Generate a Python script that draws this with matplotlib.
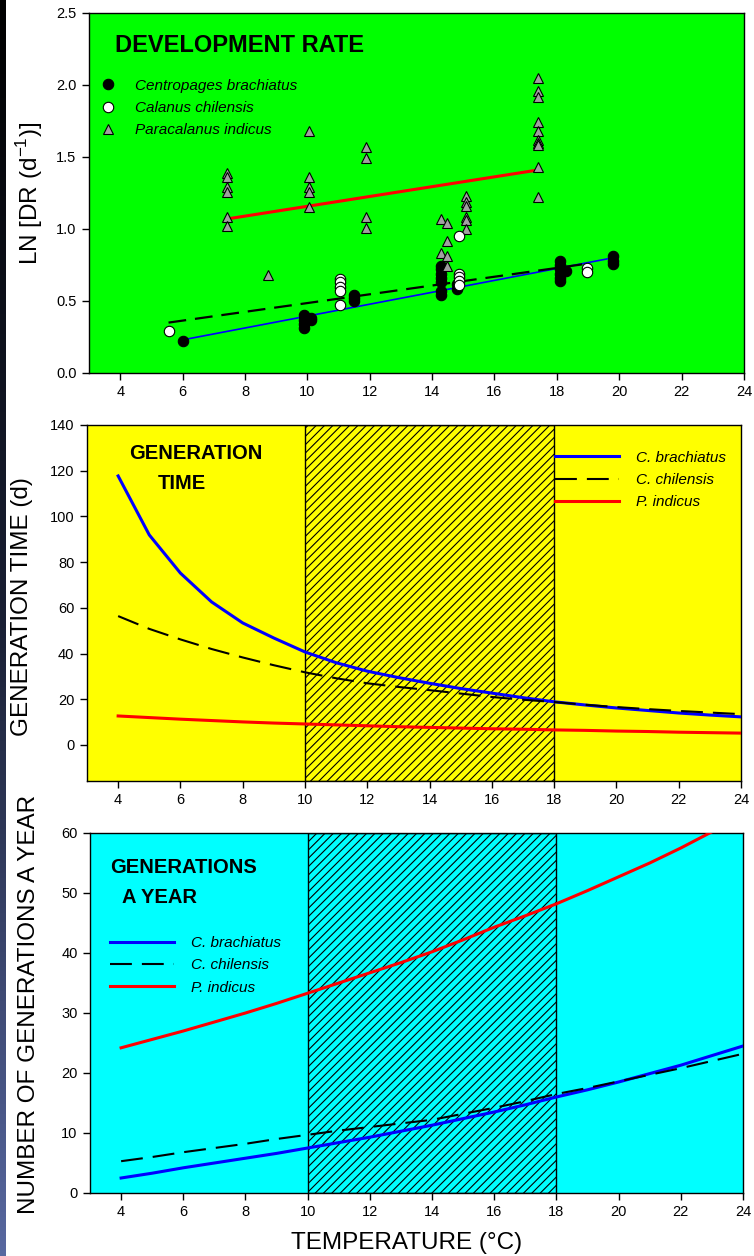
import numpy as np
import matplotlib
matplotlib.use('Agg')
import matplotlib.pyplot as plt
from matplotlib.colors import LinearSegmentedColormap

plt.rcParams['font.family'] = ['Liberation Sans', 'DejaVu Sans']
plt.rcParams['mathtext.fontset'] = 'custom'
plt.rcParams['mathtext.rm'] = 'Liberation Sans'
plt.rcParams['hatch.linewidth'] = 0.8

# --- panel 1: development rate (ln DR vs temperature) ---
cb_temp = [6.02, 9.88, 9.88, 9.88, 9.88, 10.13, 10.13, 11.5, 11.5, 11.5,
           14.3, 14.3, 14.3, 14.3, 14.3, 14.3, 14.3, 14.8, 14.8,
           18.09, 18.09, 18.09, 18.09, 18.09, 18.09, 18.3, 19.8, 19.8, 19.8]
cb_lndr = [0.22, 0.40, 0.37, 0.34, 0.31, 0.38, 0.37, 0.54, 0.52, 0.50,
           0.74, 0.72, 0.69, 0.66, 0.63, 0.57, 0.54, 0.62, 0.58,
           0.78, 0.75, 0.72, 0.69, 0.66, 0.64, 0.71, 0.81, 0.78, 0.76]

cc_temp = [5.57, 11.06, 11.06, 11.06, 11.06, 11.06,
           14.85, 14.85, 14.85, 14.85, 14.85, 18.96, 18.96]
cc_lndr = [0.29, 0.65, 0.63, 0.60, 0.57, 0.47,
           0.95, 0.69, 0.67, 0.64, 0.61, 0.73, 0.70]

pi_temp = [7.43, 7.43, 7.43, 7.43, 7.43, 7.43, 8.75,
           10.04, 10.04, 10.04, 10.04, 10.04,
           11.87, 11.87, 11.87, 11.87,
           14.3, 14.3, 14.47, 14.47, 14.47, 14.47,
           15.1, 15.1, 15.1, 15.1, 15.1, 15.1,
           17.39, 17.39, 17.39, 17.39, 17.39, 17.39, 17.39, 17.39, 17.39, 17.39]
pi_lndr = [1.39, 1.36, 1.29, 1.26, 1.08, 1.02, 0.68,
           1.68, 1.36, 1.29, 1.26, 1.15,
           1.57, 1.49, 1.08, 1.01,
           1.07, 0.83, 1.04, 0.92, 0.81, 0.74,
           1.23, 1.19, 1.16, 1.08, 1.06, 1.00,
           2.05, 1.96, 1.92, 1.74, 1.68, 1.62, 1.60, 1.58, 1.43, 1.22]

# fitted regression lines (end points)
cb_fit_t = [6.0, 19.8]
cb_fit_y = [0.23, 0.80]
cc_fit_t = [5.55, 19.0]
cc_fit_y = [0.35, 0.76]
pi_fit_t = [7.43, 17.4]
pi_fit_y = [1.07, 1.41]

# --- panels 2 and 3: curves at 1 degree steps ---
temp = np.arange(4, 25)
gt_cb = [117.7, 91.9, 75.2, 62.6, 53.4, 46.8, 40.7, 36.0, 32.3, 29.5, 27.0,
         24.7, 22.7, 20.7, 18.9, 17.5, 16.2, 15.1, 14.0, 13.1, 12.3]
gt_cc = [56.4, 50.8, 46.2, 42.0, 38.3, 34.9, 31.8, 29.2, 27.0, 25.4, 24.0,
         22.5, 21.0, 19.8, 18.8, 17.6, 16.6, 15.7, 14.9, 14.2, 13.5]
gt_pi = [12.7, 12.0, 11.3, 10.7, 10.1, 9.6, 9.2, 8.8, 8.4, 8.0, 7.7,
         7.4, 7.1, 6.9, 6.6, 6.4, 6.1, 5.9, 5.6, 5.4, 5.2]

gy_cb = [2.5, 3.3, 4.2, 5.0, 5.8, 6.6, 7.5, 8.4, 9.3, 10.3, 11.3,
         12.4, 13.5, 14.7, 16.0, 17.2, 18.5, 19.9, 21.3, 22.9, 24.5]
gy_cc = [5.3, 6.0, 6.8, 7.5, 8.2, 9.0, 9.7, 10.4, 11.0, 11.6, 12.2,
         13.2, 14.2, 15.3, 16.5, 17.5, 18.6, 19.7, 20.8, 22.0, 23.2]
gy_pi = [24.2, 25.6, 27.0, 28.5, 30.0, 31.6, 33.3, 35.0, 36.7, 38.4, 40.2,
         42.2, 44.3, 46.2, 48.2, 50.4, 52.7, 55.0, 57.5, 60.2, 62.9]

optimum = (10, 18)
xticks = np.arange(4, 25, 2)

W, H = 754, 1256
fig = plt.figure(figsize=(W / 100, H / 100), dpi=100)


def px_axes(left, top, right, bottom):
    return fig.add_axes([left / W, 1 - bottom / H, (right - left) / W, (bottom - top) / H])


def style(ax):
    ax.set_xlim(3, 24)
    ax.set_xticks(xticks)
    ax.tick_params(direction='out', length=5, width=1, top=False, right=False,
                   labelsize=10.5, pad=4)
    for s in ax.spines.values():
        s.set_linewidth(1)
        s.set_color('black')


# dark strip on the left edge of the screenshot
strip = fig.add_axes([0, 0, 6 / W, 1])
cmap = LinearSegmentedColormap.from_list('edge', ['#000000', '#1a2035', '#5868a0'])
strip.imshow(np.linspace(0, 1, 256).reshape(-1, 1), aspect='auto', cmap=cmap)
strip.axis('off')

dash = (0, (10.5, 4.8))
leg_kw = dict(frameon=False, prop={'style': 'italic', 'size': 11},
              borderpad=0, borderaxespad=0, labelspacing=0.55)

# ---------- panel 1 ----------
ax1 = px_axes(89, 13, 744, 373)
ax1.set_facecolor('#00ff00')
ax1.plot(cb_fit_t, cb_fit_y, color='#0000ff', lw=1.2, zorder=2)
ax1.plot(cc_fit_t, cc_fit_y, color='black', lw=1.6, ls=(0, (8, 4)), zorder=2)
ax1.plot(pi_fit_t, pi_fit_y, color='#ff0000', lw=2.2, zorder=2)
ax1.plot(cb_temp, cb_lndr, 'o', ms=7.5, mfc='black', mec='black', mew=0.8,
         ls='none', zorder=3, label='Centropages brachiatus')
ax1.plot(cc_temp, cc_lndr, 'o', ms=7.5, mfc='white', mec='black', mew=0.8,
         ls='none', zorder=4, label='Calanus chilensis')
ax1.plot(pi_temp, pi_lndr, '^', ms=7.5, mfc='#a0a0a0', mec='black', mew=0.8,
         ls='none', zorder=3, label='Paracalanus indicus')
style(ax1)
ax1.set_ylim(0, 2.5)
ax1.set_yticks(np.arange(0, 2.51, 0.5))
ax1.yaxis.set_major_formatter(matplotlib.ticker.FormatStrFormatter('%.1f'))
ax1.text(0.0397, 0.911, 'DEVELOPMENT RATE', transform=ax1.transAxes,
         fontsize=17, fontweight='bold', ha='left', va='center')
ax1.legend(loc='upper left', bbox_to_anchor=(0.0174, 0.818), handlelength=1.0,
           handletextpad=1.26, **leg_kw)

# ---------- panel 2 ----------
ax2 = px_axes(87, 425, 741, 781)
ax2.set_facecolor('#ffff00')
ax2.axvspan(*optimum, facecolor='none', edgecolor='black', hatch='////', lw=1, zorder=1)
ax2.plot(temp, gt_cb, color='#0000ff', lw=2.2, zorder=3, label='C. brachiatus')
ax2.plot(temp, gt_cc, color='black', lw=1.5, ls=dash, zorder=3, label='C. chilensis')
ax2.plot(temp, gt_pi, color='#ff0000', lw=2.2, zorder=3, label='P. indicus')
style(ax2)
ax2.set_ylim(-15.75, 140)
ax2.set_yticks(np.arange(0, 141, 20))
ax2.text(0.1667, 0.921, 'GENERATION', transform=ax2.transAxes, fontsize=14.5,
         fontweight='bold', ha='center', va='center')
ax2.text(0.1453, 0.837, 'TIME', transform=ax2.transAxes, fontsize=14.5,
         fontweight='bold', ha='center', va='center')
ax2.legend(loc='upper left', bbox_to_anchor=(0.7156, 0.928), handlelength=4.2,
           handletextpad=1.1, **leg_kw)

# ---------- panel 3 ----------
ax3 = px_axes(90, 833, 743, 1193)
ax3.set_facecolor('#00ffff')
ax3.axvspan(*optimum, facecolor='none', edgecolor='black', hatch='////', lw=1, zorder=1)
ax3.plot(temp, gy_cb, color='#0000ff', lw=2.2, zorder=3, label='C. brachiatus')
ax3.plot(temp, gy_cc, color='black', lw=1.5, ls=dash, zorder=3, label='C. chilensis')
ax3.plot(temp, gy_pi, color='#ff0000', lw=2.2, zorder=3, label='P. indicus')
style(ax3)
ax3.set_ylim(0, 60)
ax3.set_yticks(np.arange(0, 61, 10))
ax3.text(0.0306, 0.903, 'GENERATIONS', transform=ax3.transAxes, fontsize=14.5,
         fontweight='bold', ha='left', va='center')
ax3.text(0.049, 0.822, 'A YEAR', transform=ax3.transAxes, fontsize=14.5,
         fontweight='bold', ha='left', va='center')
ax3.legend(loc='upper left', bbox_to_anchor=(0.0306, 0.714), handlelength=4.2,
           handletextpad=1.1, **leg_kw)

# axis labels
fig.text(30 / W, 1 - 193 / H, r'LN [DR (d$^{\mathregular{-1}}$)]', rotation=90,
         fontsize=17.5, ha='center', va='center')
fig.text(22 / W, 1 - 607 / H, 'GENERATION TIME (d)', rotation=90,
         fontsize=17.5, ha='center', va='center')
fig.text(29 / W, 1 - 1004 / H, 'NUMBER OF GENERATIONS A YEAR', rotation=90,
         fontsize=17.5, ha='center', va='center')
fig.text(407 / W, 1 - 1243 / H, 'TEMPERATURE (°C)', fontsize=17.5,
         ha='center', va='center')

fig.savefig('out.png', dpi=100)
